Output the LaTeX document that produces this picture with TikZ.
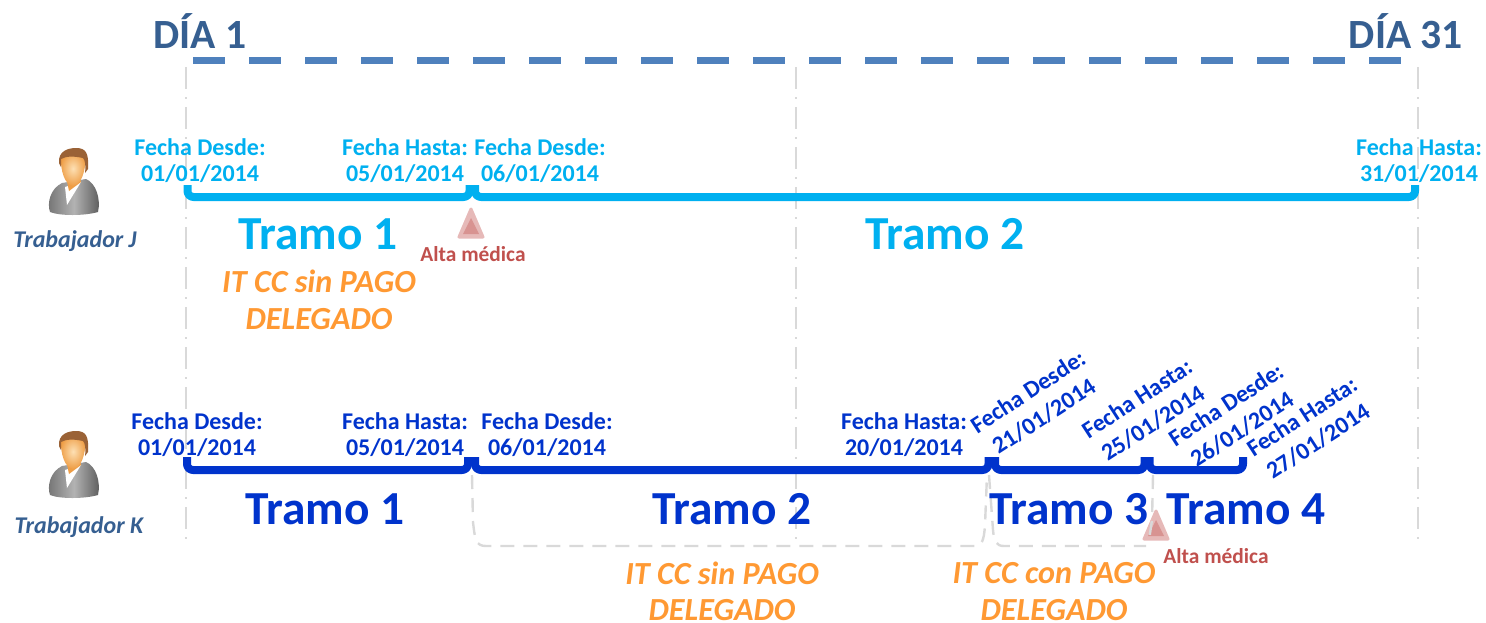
\documentclass[tikz,border=0pt]{standalone}
\usepackage{fontspec}
\setmainfont{Carlito}
\usetikzlibrary{shapes.geometric}
\definecolor{cyanT}{HTML}{00B0F0}
\definecolor{blueT}{HTML}{0033CC}
\definecolor{headB}{HTML}{365F91}
\definecolor{dashB}{HTML}{4F81BD}
\definecolor{orangeT}{HTML}{FF9933}
\definecolor{altaR}{HTML}{C0504D}
\definecolor{gridG}{HTML}{D9D9D9}
\definecolor{skinL}{HTML}{FDE0B4}
\definecolor{skinD}{HTML}{EE9D45}
\definecolor{hairB}{HTML}{9A6236}
\tikzset{
  x=0.5pt,y=-0.5pt,
  every node/.style={inner sep=0pt,outer sep=0pt},
  gridline/.style={gridG,line width=1.2pt,dash pattern=on 11pt off 4pt on 1pt off 4pt},
  linkline/.style={gridG,line width=1.2pt,dash pattern=on 7pt off 4.5pt},
  fechaC/.style={cyanT,font=\fontsize{12}{13}\selectfont\bfseries,align=center},
  fechaK/.style={blueT,font=\fontsize{12}{13}\selectfont\bfseries,align=center},
  fechaR/.style={blueT,font=\fontsize{12}{14.5}\selectfont\bfseries,align=center,rotate=33},
  tramoC/.style={cyanT,font=\fontsize{23.7}{26}\selectfont\bfseries},
  tramoK/.style={blueT,font=\fontsize{23.7}{26}\selectfont\bfseries},
  diaT/.style={headB,font=\fontsize{20.8}{22}\selectfont\bfseries},
  workerT/.style={headB,font=\fontsize{12}{14}\selectfont\bfseries\itshape},
  itT/.style={orangeT,font=\fontsize{16.1}{18}\selectfont\bfseries\itshape},
  altaT/.style={altaR,font=\fontsize{10.7}{12}\selectfont\bfseries},
  barC/.style={cyanT,line width=4pt,line join=round,rounded corners=3pt},
  barK/.style={blueT,line width=4pt,line join=round,rounded corners=3pt},
  person/.pic={
    \shade[left color=black!55,right color=black!65,middle color=black!30]
      (-24,31) .. controls (-27,22) and (-24,8) .. (-12,2) -- (12,-2)
      .. controls (22,2) and (27,18) .. (24,31) .. controls (10,35) and (-14,35) .. (-24,31) -- cycle;
    \fill[white] (-9,6) -- (7,1) -- (-7,24) -- cycle;
    \fill[skinD] (-7,0) -- (6,-3) -- (7,1) -- (-5,10) -- cycle;
    \shade[inner color=skinL,outer color=skinD]
      (-13,-26) .. controls (-14,-10) and (-9,4) .. (-1,5)
      .. controls (7,4) and (11,-8) .. (12,-24) .. controls (6,-30) and (-8,-30) .. (-13,-26) -- cycle;
    \fill[hairB]
      (-15,-18) .. controls (-16,-30) and (-6,-33) .. (2,-33)
      .. controls (12,-33) and (15,-28) .. (14,-12) -- (11,-8)
      .. controls (12,-16) and (11,-21) .. (9,-23)
      .. controls (0,-25) and (-8,-25) .. (-13,-22) -- (-13,-14) -- cycle;
  }
}
\begin{document}
\begin{tikzpicture}
\useasboundingbox (0,0) rectangle (1486,622);
% alta triangles
\coordinate (triJ) at (471,223);
\coordinate (triK) at (1156,525);
\foreach \c in {triJ,triK}{
  \fill[altaR!40,draw=altaR!40,line width=1.5pt,line join=round] (\c) ++(-12,14) -- ++(24,0) -- ++(-12,-28) -- cycle;
  \fill[altaR!62] (\c) ++(-8,11) -- ++(16,0) -- ++(-8,-16) -- cycle;
}
% grid lines
\coordinate (g1a) at (186,67); \coordinate (g1b) at (186,540);
\coordinate (g2a) at (796,67); \coordinate (g2b) at (796,540);
\coordinate (g3a) at (1418,67); \coordinate (g3b) at (1418,540);
\draw[gridline] (g1a) -- (g1b);
\draw[gridline] (g2a) -- (g2b);
\draw[gridline] (g3a) -- (g3b);
% links
\coordinate (l1a) at (472,475); \coordinate (l1b) at (987,475);
\coordinate (l2a) at (989,475); \coordinate (l2b) at (1153,475);
\coordinate (l2c) at (1149,540);
\draw[linkline]
  (l1a) -- (473,522) .. controls (475,540) and (476,546) .. (486,546) -- (975,546)
  .. controls (982,546) and (984,540) .. (985,525) -- (l1b);
\draw[linkline]
  (l2a) -- (993,530) .. controls (994,541) and (996,546) .. (1004,546) -- (1146,546);
\draw[linkline] (l2b) -- (1152,520) -- (l2c);
% top dashed line
\coordinate (topa) at (193,60); \coordinate (topb) at (1418,60);
\draw[dashB,line width=3.5pt,dash pattern=on 16pt off 12pt] (topa) -- (topb);
% worker J brackets
\draw[barC] (187.5,185) -- (187.5,197) -- (469.5,197) -- (469.5,185);
\draw[barC] (475,185) -- (475,197) -- (1415,197) -- (1415,185);
% worker K brackets
\draw[barK] (187,457) -- (187,470) -- (468,470) -- (468,457);
\draw[barK] (475,457) -- (475,470) -- (988.5,470) -- (988.5,457);
\draw[barK] (995,457) -- (995,470) -- (1144.5,470) -- (1144.5,457);
\draw[barK] (1149.5,457) -- (1149.5,470) -- (1243,470) -- (1243,457);
% headings
\node[diaT] (d1) at (200,31) {DÍA 1};
\node[diaT] (d31) at (1406,31) {DÍA 31};
% persons
\pic at (74,181) {person};
\pic at (74,464) {person};
\node[workerT] (wj) at (75,241) {Trabajador J};
\node[workerT] (wk) at (79,527) {Trabajador K};
% J labels
\node[fechaC] (j1) at (200,161) {Fecha Desde:\\01/01/2014};
\node[fechaC] (j2) at (405,161) {Fecha Hasta:\\05/01/2014};
\node[fechaC] (j3) at (540,161) {Fecha Desde:\\06/01/2014};
\node[fechaC] (j4) at (1419,161) {Fecha Hasta:\\31/01/2014};
\node[tramoC] (jt1) at (318,234) {Tramo 1};
\node[tramoC] (jt2) at (945,234) {Tramo 2};
\node[altaT] (ja1) at (473,254) {Alta médica};
\node[itT] (ji1) at (319,281) {IT CC sin PAGO};
\node[itT] (ji2) at (319,319) {DELEGADO};
% K labels
\node[fechaK] (k1) at (197,435) {Fecha Desde:\\01/01/2014};
\node[fechaK] (k2) at (405,435) {Fecha Hasta:\\05/01/2014};
\node[fechaK] (k3) at (547,435) {Fecha Desde:\\06/01/2014};
\node[fechaK] (k4) at (904,435) {Fecha Hasta:\\20/01/2014};
\node[fechaR] (k5) at (1036,404) {Fecha Desde:\\21/01/2014};
\node[fechaR] (k6) at (1145,411) {Fecha Hasta:\\25/01/2014};
\node[fechaR] (k7) at (1234,417) {Fecha Desde:\\26/01/2014};
\node[fechaR] (k8) at (1310,429) {Fecha Hasta:\\27/01/2014};
\node[tramoK] (kt1) at (325,509) {Tramo 1};
\node[tramoK] (kt2) at (732,509) {Tramo 2};
\node[tramoK] (kt3) at (1069,509) {Tramo 3};
\node[tramoK] (kt4) at (1246,509) {Tramo 4};
\node[altaT] (ka1) at (1216,556) {Alta médica};
\node[itT] (ki1) at (722,573) {IT CC sin PAGO};
\node[itT] (ki2) at (722,610) {DELEGADO};
\node[itT] (ki3) at (1054,573) {IT CC con PAGO};
\node[itT] (ki4) at (1054,610) {DELEGADO};
\end{tikzpicture}
\end{document}
